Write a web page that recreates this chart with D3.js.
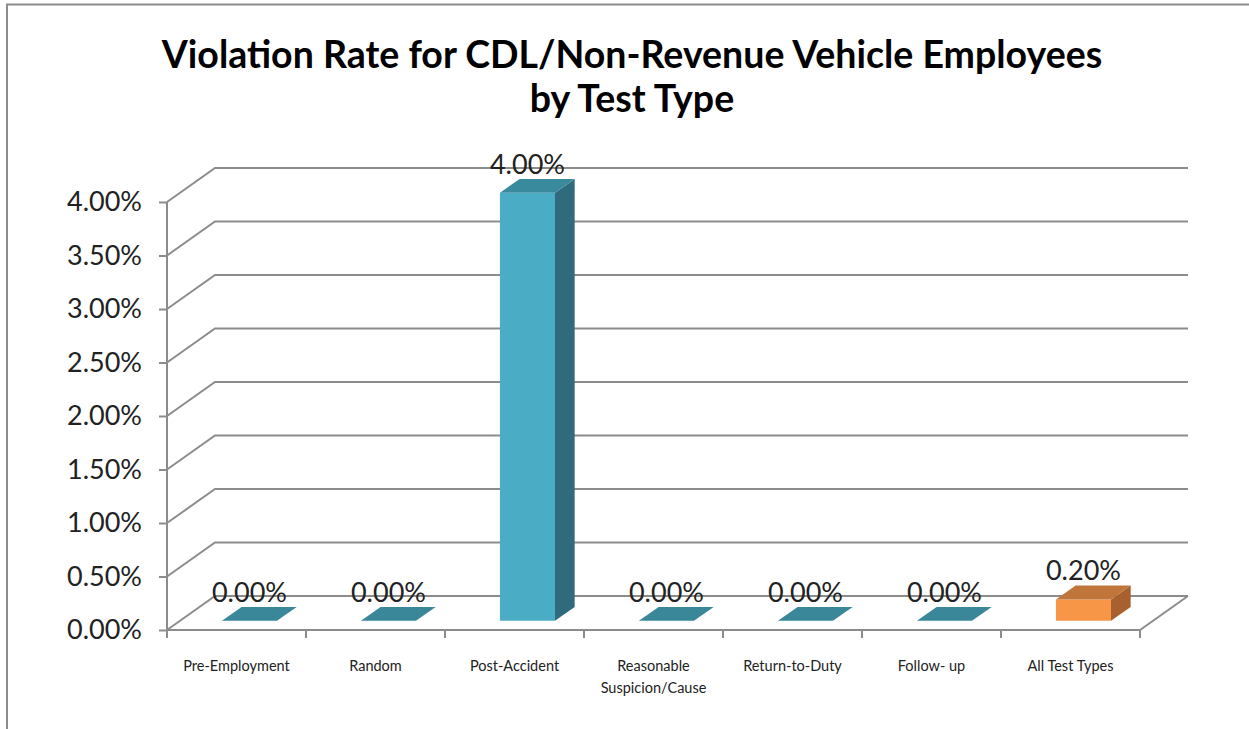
<!DOCTYPE html>
<html><head><meta charset="utf-8">
<script src="https://cdn.jsdelivr.net/npm/d3@7"></script>
<style>html,body{margin:0;padding:0;background:#fff;}svg{display:block;}</style>
</head><body>
<script>
const titleLines = ["Violation Rate for CDL/Non-Revenue Vehicle Employees", "by Test Type"];
const categories = ["Pre-Employment", "Random", "Post-Accident", "Reasonable\nSuspicion/Cause", "Return-to-Duty", "Follow- up", "All Test Types"];
const values = [0.0, 0.0, 0.04, 0.0, 0.0, 0.0, 0.002];
const valueLabels = ["0.00%", "0.00%", "4.00%", "0.00%", "0.00%", "0.00%", "0.20%"];
const yTicks = [0, 0.005, 0.01, 0.015, 0.02, 0.025, 0.03, 0.035, 0.04];
const highlight = [false, false, false, false, false, false, true];

const W = 1249, H = 729;
const FONT = "Lato, 'Open Sans', sans-serif";
const svg = d3.select("body").append("svg").attr("width", W).attr("height", H);

// frame
svg.append("path").attr("d", `M7,${H} L7,4.5 L${W},4.5`).attr("fill", "none").attr("stroke", "#8c8c8c").attr("stroke-width", 2);

// title
svg.append("text").attr("x", 632).attr("y", 68).attr("text-anchor", "middle")
  .attr("font-family", FONT).attr("font-weight", "bold").attr("font-size", 37.5).attr("fill", "#000")
  .selectAll("tspan").data(titleLines).join("tspan").attr("x", 632).attr("dy", (d, i) => i ? 44 : 0).text(d => d);

const X0 = 167, X1 = 1140, Y0 = 630, DX = 48, DY = 34;
const x = d3.scaleBand().domain(d3.range(categories.length)).range([X0, X1]).paddingInner(0.604).paddingOuter(0.302);
const y = d3.scaleLinear().domain([0, 0.04]).range([0, 428]);
const P = (px, v, z) => [px + z * DX, Y0 - y(v) - z * DY];

const grid = svg.append("g").attr("fill", "none").attr("stroke", "#8c8c8c").attr("stroke-width", 2);
yTicks.forEach(v => {
  const a = P(X0, v, 0), b = P(X0, v, 1), c = P(X1, v, 1);
  grid.append("path").attr("d", `M${a} L${b} L${c}`);
});
grid.append("path").attr("d", `M${P(X0,0,0)} L${P(X1,0,0)} L${P(X1,0,1)}`);
grid.append("path").attr("d", `M${P(X0,0,0)} L${P(X0,0.04,0)}`);

// y axis labels/ticks via d3 axis
const yAxisScale = d3.scaleLinear().domain([0, 0.04]).range([Y0, Y0 - 428]);
const yAx = svg.append("g").attr("transform", `translate(${X0},0)`)
  .call(d3.axisLeft(yAxisScale).tickValues(yTicks).tickSize(8).tickPadding(17).tickFormat(d3.format(".2%")));
yAx.select(".domain").remove();
yAx.selectAll(".tick line").attr("stroke", "#8c8c8c").attr("stroke-width", 2);
yAx.selectAll(".tick text").attr("font-family", FONT).attr("font-size", 27).attr("fill", "#222");

// x ticks at category boundaries
const step = x.step();
d3.range(categories.length + 1).forEach(i => {
  const px = X0 + i * step;
  grid.append("line").attr("x1", px).attr("x2", px).attr("y1", Y0).attr("y2", Y0 + 8);
});

// x labels
const xl = svg.append("g").attr("font-family", FONT).attr("font-size", 14.5).attr("fill", "#222").attr("text-anchor", "middle");
categories.forEach((c, i) => {
  const cx = x(i) + x.bandwidth() / 2;
  const t = xl.append("text").attr("x", cx).attr("y", 671);
  c.split("\n").forEach((ln, j) => t.append("tspan").attr("x", cx).attr("dy", j ? 22 : 0).text(ln));
});

// bars
const z0 = 0.27, z1 = 0.68;
const bars = svg.append("g");
const colors = {
  normal: { front: "#4bacc6", top: "#3a8a9e", side: "#2f6b7c", flat: "#3a8799" },
  hi: { front: "#f79646", top: "#c0763a", side: "#a8612e", flat: "#c0763a" }
};
values.forEach((v, i) => {
  const c = highlight[i] ? colors.hi : colors.normal;
  const xa = x(i), xb = x(i) + x.bandwidth();
  if (v === 0) {
    bars.append("path").attr("d", `M${P(xa,0,z0)} L${P(xb,0,z0)} L${P(xb,0,z1)} L${P(xa,0,z1)} Z`).attr("fill", c.flat);
  } else {
    bars.append("path").attr("d", `M${P(xa,0,z0)} L${P(xb,0,z0)} L${P(xb,v,z0)} L${P(xa,v,z0)} Z`).attr("fill", c.front);
    bars.append("path").attr("d", `M${P(xb,0,z0)} L${P(xb,0,z1)} L${P(xb,v,z1)} L${P(xb,v,z0)} Z`).attr("fill", c.side);
    bars.append("path").attr("d", `M${P(xa,v,z0)} L${P(xb,v,z0)} L${P(xb,v,z1)} L${P(xa,v,z1)} Z`).attr("fill", c.top);
  }
  const fc = P((xa + xb) / 2, v, z0);
  svg.append("text").attr("x", fc[0]).attr("y", fc[1] - 19).attr("text-anchor", "middle")
    .attr("font-family", FONT).attr("font-size", 27).attr("fill", "#222").text(valueLabels[i]);
});
</script>
</body></html>
